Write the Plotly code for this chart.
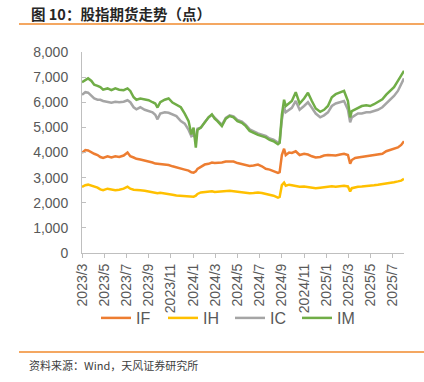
import plotly.graph_objects as go

# trading-day index (category position along the x axis)
day = [0, 6, 11, 17, 22, 28, 33, 38, 46, 53, 60, 67, 75, 82, 87, 93, 98, 105, 113, 120,
       127, 132, 136, 141, 149, 156, 163, 170, 178, 185, 192, 197, 201, 205, 208, 214, 221,
       228, 234, 239, 244, 252, 259, 266, 273, 280, 288, 295, 302, 309, 317, 324, 331, 338,
       345, 353, 356, 360, 364, 367, 373, 378, 385, 392, 400, 407, 414, 421, 429, 436, 443,
       450, 457, 465, 472, 479, 483, 486, 492, 497, 504, 512, 519, 526, 533, 541, 548, 555,
       562, 569, 575, 580]

IF = [3990, 4100, 4080, 4000, 3950, 3900, 3820, 3780, 3850, 3800, 3850, 3820, 3880, 4000, 3850,
      3800, 3750, 3720, 3680, 3650, 3600, 3560, 3550, 3560, 3520, 3500, 3450, 3400, 3370, 3320,
      3280, 3210, 3200, 3250, 3350, 3420, 3520, 3550, 3600, 3580, 3580, 3600, 3640, 3650, 3640,
      3580, 3540, 3500, 3460, 3480, 3520, 3450, 3350, 3320, 3260, 3190, 3220, 3900, 4150, 3900,
      4000, 3980, 4050, 3900, 3950, 3920, 3850, 3800, 3820, 3880, 3900, 3900, 3880, 3920, 3950,
      3900, 3550, 3700, 3780, 3800, 3820, 3850, 3880, 3900, 3920, 3950, 4050, 4100, 4150, 4200,
      4300, 4450]

IH = [2630, 2700, 2720, 2680, 2650, 2600, 2530, 2500, 2560, 2520, 2500, 2520, 2560, 2640, 2560,
      2520, 2500, 2500, 2480, 2450, 2430, 2400, 2380, 2400, 2360, 2340, 2320, 2290, 2280, 2270,
      2260, 2250, 2240, 2280, 2350, 2410, 2420, 2440, 2460, 2430, 2440, 2450, 2460, 2480, 2460,
      2440, 2420, 2400, 2380, 2390, 2410, 2390, 2350, 2320, 2280, 2200, 2230, 2700, 2800, 2680,
      2720, 2700, 2680, 2640, 2650, 2620, 2600, 2580, 2600, 2620, 2650, 2660, 2640, 2660, 2680,
      2650, 2450, 2580, 2620, 2640, 2650, 2660, 2680, 2700, 2720, 2740, 2780, 2800, 2820, 2850,
      2880, 2950]

IC = [6300, 6400, 6380, 6250, 6150, 6100, 6100, 6050, 6000, 5980, 6020, 6000, 6020, 6080, 6000,
      5800, 5720, 5800, 5700, 5650, 5600, 5500, 5320, 5550, 5600, 5580, 5520, 5450, 5250, 5150,
      4900, 4650, 4700, 4550, 4950, 4990, 5200, 5400, 5500, 5380, 5280, 5100, 5380, 5480, 5440,
      5300, 5230, 5100, 4920, 4840, 4760, 4710, 4660, 4560, 4510, 4400, 4420, 5300, 5800, 5600,
      5700, 5780, 6050, 5700, 5850, 6000, 5780, 5550, 5400, 5480, 5600, 5850, 5950, 6000, 6050,
      5700, 5200, 5400, 5480, 5550, 5550, 5600, 5600, 5650, 5700, 5800, 5950, 6100, 6250, 6450,
      6750, 6950]

IM = [6800, 6900, 6950, 6850, 6700, 6650, 6600, 6500, 6550, 6480, 6550, 6500, 6480, 6550, 6450,
      6200, 6100, 6150, 6100, 6080, 6000, 5950, 5790, 6000, 6100, 6150, 5990, 5900, 5800, 5550,
      5250, 4720, 4990, 4190, 4900, 4990, 5200, 5400, 5520, 5350, 5250, 5050, 5350, 5450, 5400,
      5250, 5180, 5050, 4860, 4780, 4700, 4650, 4600, 4500, 4450, 4330, 4380, 5500, 6100, 5850,
      5950, 6050, 6400, 5950, 6150, 6380, 6050, 5750, 5620, 5700, 5850, 6200, 6320, 6380, 6450,
      6050, 5400, 5650, 5720, 5800, 5850, 5880, 5850, 5920, 6000, 6120, 6300, 6450, 6600, 6850,
      7100, 7250]

tick_pos = [0, 40, 80, 120, 160, 200, 240, 280, 320, 360, 400, 440, 480, 520, 560]
tick_labels = ["2023/3", "2023/5", "2023/7", "2023/9", "2023/11", "2024/1", "2024/3", "2024/5",
               "2024/7", "2024/9", "2024/11", "2025/1", "2025/3", "2025/5", "2025/7"]
y_ticks = [0, 1000, 2000, 3000, 4000, 5000, 6000, 7000, 8000]

series = [("IF", IF, "#ED7D31"), ("IH", IH, "#FFC000"), ("IC", IC, "#A5A5A5"), ("IM", IM, "#70AD47")]

fig = go.Figure()
for name, vals, color in series:
    fig.add_trace(go.Scatter(x=day, y=vals, name=name, mode="lines",
                             line=dict(color=color, width=2.5)))

W, H = 424, 382
L, T = 82, 52
R = W - 404
B = H - 253
pw, ph = W - L - R, H - T - B

def px(x):
    return (x - L) / pw

def py(y):
    return (H - B - y) / ph

CJK = "Noto Sans CJK SC, Liberation Sans, Arial, sans-serif"
LAT = "Liberation Sans, Arial, sans-serif"

fig.update_layout(
    width=W, height=H, autosize=False,
    margin=dict(l=L, r=R, t=T, b=B, autoexpand=False),
    paper_bgcolor="white", plot_bgcolor="white",
    font=dict(family=LAT, color="#595959", size=14),
    showlegend=True,
    legend=dict(orientation="h", x=px(96), y=py(318), xanchor="left", yanchor="middle",
                font=dict(size=16, color="#595959", family=LAT),
                entrywidth=22, entrywidthmode="pixels", itemwidth=30,
                bgcolor="rgba(0,0,0,0)"),
    xaxis=dict(range=[0, 580], tickmode="array", tickvals=tick_pos, ticktext=tick_labels,
               tickangle=-90, showline=True, linecolor="#BFBFBF", linewidth=1,
               ticks="outside", ticklen=4, tickcolor="#BFBFBF", showgrid=False, zeroline=False,
               automargin=False,
               tickfont=dict(size=14, color="#595959", family=LAT)),
    yaxis=dict(range=[0, 8000], tickmode="array", tickvals=y_ticks, tickformat=",d",
               showline=True, linecolor="#BFBFBF", linewidth=1,
               ticks="inside", ticklen=4, tickcolor="#BFBFBF", showgrid=False, zeroline=False,
               ticklabelstandoff=10, automargin=False,
               tickfont=dict(size=14, color="#595959", family=LAT)),
    shapes=[
        dict(type="line", xref="paper", yref="paper", x0=px(19), x1=px(424), y0=py(24), y1=py(24),
             line=dict(color="#F08A2C", width=1.5)),
        dict(type="line", xref="paper", yref="paper", x0=px(19), x1=px(424), y0=py(352), y1=py(352),
             line=dict(color="#F08A2C", width=1.5)),
    ],
    annotations=[
        dict(text="<b>图 10：股指期货走势（点）</b>", xref="paper", yref="paper",
             x=px(30), y=py(13), xanchor="left", yanchor="middle", showarrow=False,
             borderpad=0,
             font=dict(size=14.5, color="#262626", family=CJK)),
        dict(text="资料来源：Wind，天风证券研究所", xref="paper", yref="paper",
             x=px(27), y=py(365), xanchor="left", yanchor="middle", showarrow=False,
             font=dict(size=11, color="#404040", family=CJK)),
    ],
)

# remove the browser's default 8px body margin so the figure sits at the page origin
fig.write_html("out.html",
               config={"displayModeBar": False},
               post_script="document.body.style.margin='0';document.body.style.padding='0';")
